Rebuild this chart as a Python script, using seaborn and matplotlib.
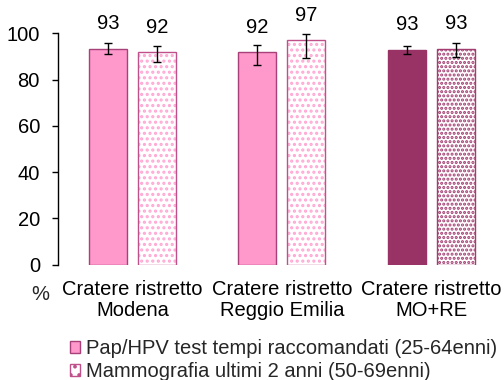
import matplotlib
matplotlib.use("Agg")
import matplotlib.pyplot as plt
from matplotlib.patches import Patch, Rectangle
import seaborn as sns
import pandas as pd

# ---- data ----
areas = ["Cratere ristretto\nModena", "Cratere ristretto\nReggio Emilia", "Cratere ristretto\nMO+RE"]
series = ["Pap/HPV test tempi raccomandati (25-64enni)", "Mammografia ultimi 2 anni (50-69enni)"]
pap_values = [93.3, 91.7, 92.9]
pap_low = [91.0, 86.2, 91.2]
pap_high = [95.8, 95.1, 94.5]
mammo_values = [91.7, 97.1, 93.3]
mammo_low = [87.8, 89.4, 89.9]
mammo_high = [94.6, 99.9, 95.8]
yticks = [0, 20, 40, 60, 80, 100]

df = pd.DataFrame({
    "area": areas * 2,
    "serie": [series[0]] * 3 + [series[1]] * 3,
    "value": pap_values + mammo_values,
})

sns.set_theme(style="white")
plt.rcParams["font.family"] = ["Liberation Sans", "DejaVu Sans"]
plt.rcParams["hatch.linewidth"] = 1.5
FS = 14.5

fig = plt.figure(figsize=(5.04, 3.80), dpi=100)
ax_left = 57.7 / 504
ax_bottom = (380 - 264.5) / 380
ax_top = (380 - 33.3) / 380
ax = fig.add_axes([ax_left, ax_bottom, 1 - ax_left, ax_top - ax_bottom])

sns.barplot(data=df, x="area", y="value", hue="serie", hue_order=series,
            order=areas, palette=["#FF99CC", "#FF99CC"], width=0.655, gap=0.225,
            errorbar=None, legend=False, ax=ax)

pink = "#FF99CC"
dark = "#993366"
solid_fill = [pink, pink, dark]
solid_edge = ["#A8417A", "#A8417A", "#993366"]
dot_color = ["#FFA8D4", "#FFA8D4", "#A33C70"]
dot_hatch = ["...", "...", "...."]
border_col = ["#C0508A", "#C0508A", "#A33C70"]

errs = [(pap_values, pap_low, pap_high), (mammo_values, mammo_low, mammo_high)]
bar_conts = list(ax.containers)
for ci, cont in enumerate(bar_conts):
    vals, lows, highs = errs[ci]
    for i, p in enumerate(cont.patches):
        if ci == 0:
            p.set_facecolor(solid_fill[i])
            p.set_edgecolor(solid_edge[i])
            p.set_linewidth(1.0)
        else:
            p.set_facecolor("white")
            p.set_edgecolor(dot_color[i])
            p.set_hatch(dot_hatch[i])
            p.set_linewidth(0)
            ax.add_patch(Rectangle(p.get_xy(), p.get_width(), p.get_height(),
                                   fill=False, edgecolor=border_col[i], linewidth=1.0, zorder=p.get_zorder() + 0.1))
        xc = p.get_x() + p.get_width() / 2
        v = vals[i]
        ax.errorbar([xc], [v], yerr=[[v - lows[i]], [highs[i] - v]], fmt="none",
                    ecolor="black", elinewidth=1.0, capsize=2.7, capthick=1.0, zorder=5)
        ax.annotate(f"{round(v)}", (xc, v), xytext=(0, 18), textcoords="offset points",
                    ha="center", va="center", fontsize=FS, color="black")

ax.set_ylim(0, 100)
ax.set_xlim(-0.5, (504 - 57.7) / 149.5 - 0.5)
ax.set_yticks(yticks)
ax.set_yticklabels([str(t) for t in yticks])
ax.set_xlabel("")
ax.set_ylabel("")
for s in ["top", "right", "bottom"]:
    ax.spines[s].set_visible(False)
ax.spines["left"].set_color("black")
ax.spines["left"].set_linewidth(1.0)
ax.tick_params(axis="y", left=True, direction="out", length=4.3, width=1.0, color="black",
               pad=8.5, labelsize=FS, labelcolor="black")
ax.tick_params(axis="x", bottom=False, pad=5.5, labelsize=FS, labelcolor="black")
for lab in ax.get_xticklabels():
    lab.set_linespacing(1.07)
ax.set_facecolor("white")

fig.text(40 / 504, 1 - 294 / 380, "%", ha="center", va="center", fontsize=FS)

handles = [
    Patch(facecolor=pink, edgecolor="#A8417A", linewidth=1.0),
    Patch(facecolor="white", edgecolor="#C0508A", linewidth=1.0, hatch=".."),
]
leg = fig.legend(handles, series, loc="upper left", bbox_to_anchor=(70 / 504, 1 - 339 / 380),
                 frameon=False, fontsize=FS, handlelength=0.5, handleheight=0.5,
                 handletextpad=0.3, labelspacing=0.2, borderpad=0, borderaxespad=0)

fig.savefig("out.png", dpi=100, facecolor="white")
